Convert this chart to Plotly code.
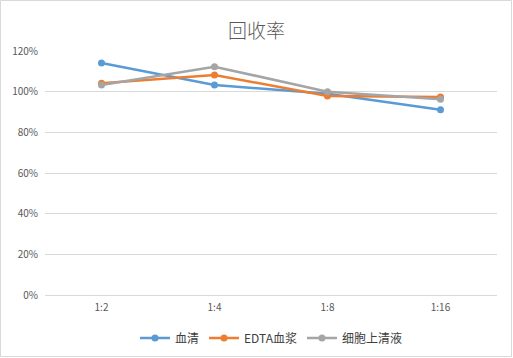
import plotly.graph_objects as go

categories = ["1:2", "1:4", "1:8", "1:16"]
serum = [1.141, 1.033, 0.99, 0.911]
edta_plasma = [1.041, 1.082, 0.979, 0.974]
supernatant = [1.033, 1.123, 1.0, 0.963]
series_names = ["血清", "EDTA血浆", "细胞上清液"]
colors = ["#5B9BD5", "#ED7D31", "#A5A5A5"]

W, H = 513, 358
L, R, T, B = 45, 16, 51, 63

fig = go.Figure()
for name, vals, c in zip(series_names, [serum, edta_plasma, supernatant], colors):
    fig.add_trace(go.Scatter(
        x=categories, y=vals, name=name, mode="lines+markers",
        line=dict(color=c, width=2.5), marker=dict(color=c, size=7),
    ))

pw = W - L - R
ph = H - T - B
fig.add_shape(type="rect", xref="paper", yref="paper",
              x0=-(L - 0.5) / pw, x1=1 + (R - 1.5) / pw,
              y0=-(B - 1.5) / ph, y1=1 + (T - 0.5) / ph,
              line=dict(color="#D9D9D9", width=1), fillcolor="rgba(0,0,0,0)", layer="below")

fig.update_layout(
    width=W, height=H,
    margin=dict(l=L, r=R, t=T, b=B, autoexpand=False),
    paper_bgcolor="white", plot_bgcolor="white",
    font=dict(family="Noto Sans CJK SC, DejaVu Sans", size=10, color="#595959"),
    title=dict(text="回收率", x=0.5, xanchor="center", y=1 - 31 / H, yanchor="middle",
               font=dict(size=19, color="#595959", family="Noto Sans CJK SC", weight=300)),
    showlegend=True,
    legend=dict(orientation="h", x=0.5, xanchor="center", y=-(338 - T - ph) / ph, yanchor="middle",
                font=dict(size=12, color="#404040"), itemwidth=30, tracegroupgap=0),
    xaxis=dict(showgrid=False, showline=False, ticks="", tickfont=dict(size=10, color="#595959"),
               range=[-0.5, 3.5], ticklabelstandoff=5),
    yaxis=dict(range=[0, 1.2], dtick=0.2, tickformat=".0%", showgrid=True, gridcolor="#D9D9D9",
               gridwidth=1, zeroline=True, zerolinecolor="#D9D9D9", zerolinewidth=1,
               showline=False, ticks="", tickfont=dict(size=10, color="#595959"),
               ticklabelstandoff=6),
)

fig.write_html("out.html", config={"displayModeBar": False},
               post_script="document.body.style.margin='0';document.body.style.overflow='hidden';")
